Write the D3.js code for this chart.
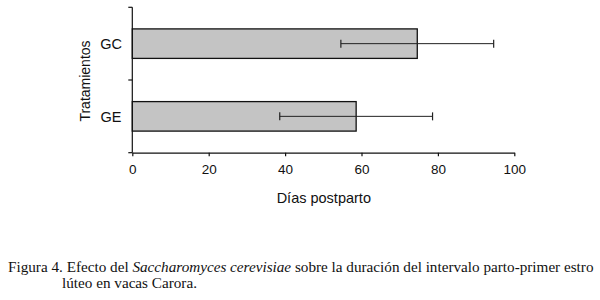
<!DOCTYPE html>
<html><head><meta charset="utf-8">
<script src="https://cdn.jsdelivr.net/npm/d3@7"></script>
<style>body{margin:0;background:#fff}svg{display:block}</style>
</head><body>
<script>
const categories = ["GC", "GE"];
const values = [74.6, 58.6];
const errors = [20, 20];
const xTicks = [0, 20, 40, 60, 80, 100];

(function () {
const W = 600, H = 300;
const svg = d3.select("body").append("svg").attr("width", W).attr("height", H);

const mLeft = 132.3, mRight = 514.3, mTop = 7.3, mBottom = 152.7;
const x = d3.scaleLinear().domain([0, 100]).range([mLeft, mRight]);
const y = d3.scaleBand().domain(categories).range([mTop, mBottom]);
const barH = 29.5;

const font = "Arial, 'Liberation Sans', sans-serif";

// bars
categories.forEach((c, i) => {
  const cy = y(c) + y.bandwidth() / 2;
  svg.append("rect")
    .attr("x", x(0)).attr("y", cy - barH / 2)
    .attr("width", x(values[i]) - x(0)).attr("height", barH)
    .attr("fill", "#c4c4c4").attr("stroke", "#111").attr("stroke-width", 1.3);
  const lo = x(values[i] - errors[i]), hi = x(values[i] + errors[i]);
  svg.append("line").attr("x1", lo).attr("x2", hi).attr("y1", cy).attr("y2", cy)
    .attr("stroke", "#222").attr("stroke-width", 1);
  [lo, hi].forEach(px => svg.append("line").attr("x1", px).attr("x2", px)
    .attr("y1", cy - 4).attr("y2", cy + 4).attr("stroke", "#222").attr("stroke-width", 1.2));
  svg.append("text").attr("x", 111).attr("y", cy).attr("dy", "0.36em")
    .attr("text-anchor", "middle").attr("font-family", font).attr("font-size", 14.5)
    .attr("fill", "#111").text(c);
});

// y axis
svg.append("line").attr("x1", mLeft).attr("x2", mLeft).attr("y1", mTop).attr("y2", mBottom)
  .attr("stroke", "#111").attr("stroke-width", 1.2);
[mTop, mTop + y.bandwidth(), mBottom].forEach(py => svg.append("line")
  .attr("x1", mLeft - 4).attr("x2", mLeft).attr("y1", py).attr("y2", py)
  .attr("stroke", "#111").attr("stroke-width", 1.2));

// x axis
const xAxis = d3.axisBottom(x).tickValues(xTicks).tickSize(3.5).tickPadding(8).tickSizeOuter(0);
const gx = svg.append("g").attr("transform", `translate(0,${mBottom})`).call(xAxis);
gx.select(".domain").attr("stroke", "#111").attr("stroke-width", 1.2);
gx.selectAll(".tick line").attr("stroke", "#111").attr("stroke-width", 1.2);
gx.selectAll("text").attr("font-family", font).attr("font-size", 13.5).attr("fill", "#111");

svg.append("text").attr("x", (mLeft + mRight) / 2 + 0.5).attr("y", 203)
  .attr("text-anchor", "middle").attr("font-family", font).attr("font-size", 14.5)
  .attr("fill", "#111").text("Días postparto");

svg.append("text").attr("transform", `translate(90,${(mTop + mBottom) / 2 + 1}) rotate(-90)`)
  .attr("text-anchor", "middle").attr("font-family", font).attr("font-size", 14)
  .attr("fill", "#111").text("Tratamientos");

// caption
const serif = "'Liberation Serif', 'Times New Roman', serif";
const cap1 = svg.append("text").attr("x", 8).attr("y", 272)
  .attr("font-family", serif).attr("font-size", 15.2).attr("fill", "#111");
cap1.append("tspan").text("Figura 4. Efecto del ");
cap1.append("tspan").attr("font-style", "italic").text("Saccharomyces cerevisiae");
cap1.append("tspan").text(" sobre la duración del intervalo parto-primer estro");
svg.append("text").attr("x", 62).attr("y", 288)
  .attr("font-family", serif).attr("font-size", 15.2).attr("fill", "#111")
  .text("lúteo en vacas Carora.");
})();
</script>
</body></html>
